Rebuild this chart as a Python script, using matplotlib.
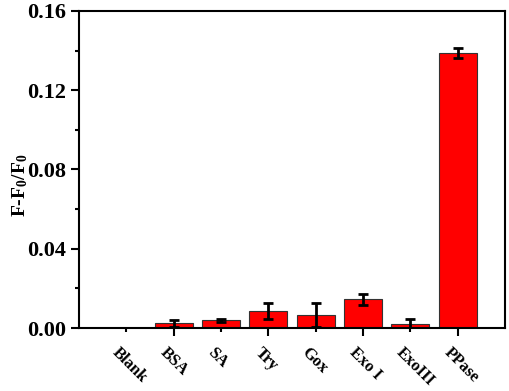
import numpy as np
import matplotlib
matplotlib.use("Agg")
import matplotlib.pyplot as plt
from matplotlib.ticker import MultipleLocator, FixedLocator, NullFormatter

plt.rcParams["font.family"] = "Liberation Serif"
plt.rcParams["font.weight"] = "bold"
plt.rcParams["mathtext.fontset"] = "custom"
plt.rcParams["mathtext.rm"] = "Liberation Serif:bold"
plt.rcParams["mathtext.it"] = "Liberation Serif:bold"

# data
categories = ["Blank", "BSA", "SA", "Try", "Gox", "Exo I", "ExoIII", "PPase"]
values = [0.0, 0.0024, 0.0039, 0.0086, 0.0067, 0.0145, 0.0020, 0.1388]
errors = [0.0, 0.0018, 0.0006, 0.0040, 0.0060, 0.0027, 0.0025, 0.0025]

fig = plt.figure(figsize=(5.1, 3.91), dpi=100)
ax = fig.add_axes([0.155, 0.161, 0.835, 0.811])

x = np.arange(len(categories))
ax.bar(x, values, width=0.8, color="#ff0000", edgecolor="#333333", linewidth=0.8)
ax.errorbar(x[1:], values[1:], yerr=errors[1:], fmt="none", ecolor="black",
            elinewidth=2, capsize=3.5, capthick=2)

ax.set_xlim(-1, 8)
ax.set_ylim(0, 0.16)
ax.yaxis.set_minor_locator(MultipleLocator(0.02))
ax.set_yticks([0, 0.04, 0.08, 0.12, 0.16])
ax.set_yticklabels(["0.00", "0.04", "0.08", "0.12", "0.16"])

# long ticks on every second category, short ones in between
ax.xaxis.set_major_locator(FixedLocator(x[1::2]))
ax.xaxis.set_minor_locator(FixedLocator(x[0::2]))
ax.xaxis.set_major_formatter(NullFormatter())
for xi, lab in zip(x, categories):
    ax.text(xi - 0.12, -0.0085, lab, rotation=-45, ha="left", va="top",
            rotation_mode="anchor", fontsize=12, fontweight="bold")

ax.tick_params(axis="both", which="major", direction="out", width=1.5, length=6)
ax.tick_params(axis="both", which="minor", direction="out", width=1.5, length=3)
ax.tick_params(axis="y", labelsize=16)
for s in ax.spines.values():
    s.set_linewidth(1.5)

ax.set_ylabel("F-F$_0$/F$_0$", fontsize=14, fontweight="bold")
ax.yaxis.set_label_coords(-0.115, 0.45)

fig.savefig("out.png", dpi=100)
